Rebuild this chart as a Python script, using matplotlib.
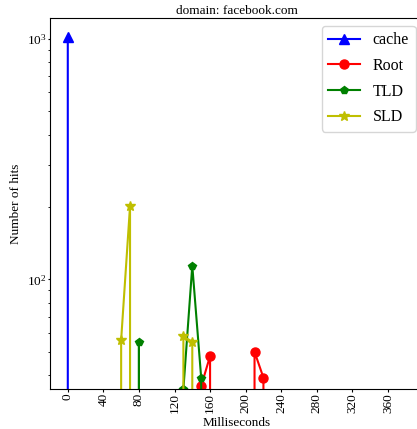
import matplotlib
matplotlib.use("Agg")
import matplotlib.pyplot as plt
import numpy as np

plt.rcParams['font.family'] = ['Liberation Serif', 'DejaVu Serif']
plt.rcParams['mathtext.fontset'] = 'custom'
plt.rcParams['mathtext.rm'] = 'Liberation Serif'
plt.rcParams['mathtext.it'] = 'Liberation Serif:italic'

# bins in milliseconds
bins = [0, 10, 20, 30, 40, 50, 60, 70, 80, 90, 100, 110, 120, 130, 140, 150,
        160, 170, 180, 190, 200, 210, 220, 230, 240]
cache = [1019, 0, 0, 0, 0, 0, 0, 0, 0, 0, 0, 0, 0, 0, 0, 0,
         0, 0, 0, 0, 0, 0, 0, 0, 0]
root = [0, 0, 0, 0, 0, 0, 0, 0, 0, 0, 0, 0, 0, 0, 0, 36,
        48, 0, 0, 0, 0, 50, 39, 0, 0]
tld = [0, 0, 0, 0, 0, 0, 0, 0, 55, 0, 0, 0, 0, 35, 114, 39,
       0, 0, 0, 0, 0, 0, 0, 0, 0]
sld = [0, 0, 0, 0, 0, 0, 56, 202, 0, 0, 0, 0, 0, 58, 55, 0,
       0, 0, 0, 0, 0, 0, 0, 0, 0]
xticks = [0, 40, 80, 120, 160, 200, 240, 280, 320, 360]

fig = plt.figure(figsize=(4.17, 4.29), dpi=100)
ax = fig.add_axes([50/417, 1 - 389/429, 373.5/417, (389 - 18)/429])

ax.plot(bins, cache, color='b', marker='^', markersize=7, label='cache')
ax.plot(bins, root, color='r', marker='o', markersize=6.5, label='Root')
ax.plot(bins, tld, color='g', marker='p', markersize=6, label='TLD')
ax.plot(bins, sld, color='y', marker='*', markersize=7, label='SLD')

ax.set_yscale('log')
ax.set_ylim(35, 1223)
ax.set_xlim(-20, 400)
ax.set_xticks(xticks)
ax.set_xticklabels([str(t) for t in xticks], rotation=90)
ax.tick_params(axis='both', which='major', labelsize=9.5, length=1.8, pad=1)
ax.tick_params(axis='both', which='minor', length=1.2)
ax.set_xlabel('Milliseconds', fontsize=9.5, labelpad=3)
ax.set_ylabel('Number of hits', fontsize=9.5, labelpad=3)
ax.set_title('domain: facebook.com', fontsize=9.5, pad=3)
ax.legend(loc='upper right', fontsize=11.5, labelspacing=0.6)

fig.savefig('out.png', dpi=100)
